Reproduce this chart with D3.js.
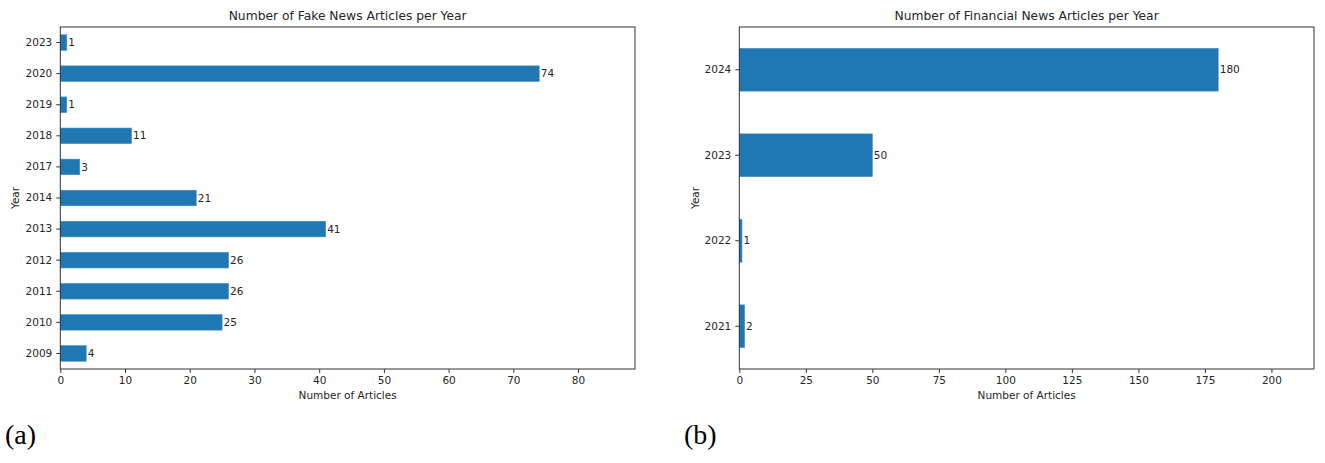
<!DOCTYPE html>
<html><head><meta charset="utf-8">
<script src="https://cdn.jsdelivr.net/npm/d3@7"></script>
<style>body{margin:0;background:#fff}svg{display:block}</style>
</head><body>
<svg id="c" width="1325" height="463"></svg>
<script>
// Data
const fakeYears = ["2009","2010","2011","2012","2013","2014","2017","2018","2019","2020","2023"];
const fakeCounts = [4,25,26,26,41,21,3,11,1,74,1];
const fakeTicks = [0,10,20,30,40,50,60,70,80];
const finYears = ["2021","2022","2023","2024"];
const finCounts = [2,1,50,180];
const finTicks = [0,25,50,75,100,125,150,175,200];

const svg = d3.select("#c");
const FONT = "DejaVu Sans, sans-serif";
const TXT = "#262626";
const BAR = "#1f77b4";

function panel(o) {
  const {left, right, top, bottom, years, counts, ticks, xmax, title} = o;
  const g = svg.append("g");
  const x = d3.scaleLinear().domain([0, xmax]).range([left, right]);
  const y = d3.scaleBand().domain(years.slice().reverse()).range([top, bottom])
    .paddingInner(0.5).paddingOuter(0.25);

  g.selectAll("rect.bar").data(years.map((yr,i)=>({yr, v: counts[i]}))).enter()
    .append("rect").attr("class","bar")
    .attr("x", x(0)).attr("y", d => y(d.yr))
    .attr("width", d => x(d.v) - x(0)).attr("height", y.bandwidth())
    .attr("fill", BAR).attr("stroke", "#3d8cc6").attr("stroke-width", 0.6);

  g.selectAll("text.val").data(years.map((yr,i)=>({yr, v: counts[i]}))).enter()
    .append("text").attr("class","val")
    .attr("x", d => x(d.v) + 1.5).attr("y", d => y(d.yr) + y.bandwidth()/2)
    .attr("dy", "0.35em").attr("font-family", FONT).attr("font-size", 10.5)
    .attr("fill", TXT).text(d => d.v);

  // frame
  g.append("rect").attr("x", left).attr("y", top)
    .attr("width", right-left).attr("height", bottom-top)
    .attr("fill", "none").attr("stroke", "#333").attr("stroke-width", 1);

  const xa = g.append("g").attr("transform", `translate(0,${bottom})`)
    .call(d3.axisBottom(x).tickValues(ticks).tickSize(4).tickPadding(4));
  const ya = g.append("g").attr("transform", `translate(${left},0)`)
    .call(d3.axisLeft(y).tickSize(4).tickPadding(4));
  [xa, ya].forEach(a => {
    a.select(".domain").remove();
    a.selectAll("line").attr("stroke", "#333");
    a.selectAll("text").attr("font-family", FONT).attr("font-size", 10.5).attr("fill", TXT);
  });

  g.append("text").attr("x", (left+right)/2).attr("y", top - 7)
    .attr("text-anchor","middle").attr("font-family", FONT).attr("font-size", 12.3)
    .attr("fill", TXT).text(title);
  g.append("text").attr("x", (left+right)/2).attr("y", bottom + 30)
    .attr("text-anchor","middle").attr("font-family", FONT).attr("font-size", 10.5)
    .attr("fill", TXT).text("Number of Articles");
  g.append("text").attr("transform", `translate(${o.ylabX},${(top+bottom)/2}) rotate(-90)`)
    .attr("text-anchor","middle").attr("font-family", FONT).attr("font-size", 10.5)
    .attr("fill", TXT).text("Year");
}

panel({left: 60.3, right: 635, top: 27, bottom: 369, years: fakeYears, counts: fakeCounts,
  ticks: fakeTicks, xmax: d3.max(fakeCounts)*1.2, title: "Number of Fake News Articles per Year", ylabX: 19});
panel({left: 739.3, right: 1314, top: 27, bottom: 369, years: finYears, counts: finCounts,
  ticks: finTicks, xmax: d3.max(finCounts)*1.2, title: "Number of Financial News Articles per Year", ylabX: 699});

svg.append("text").attr("x", 5).attr("y", 444).attr("font-family", "Liberation Serif, serif")
  .attr("font-size", 28).attr("fill", "#000").text("(a)");
svg.append("text").attr("x", 684).attr("y", 444).attr("font-family", "Liberation Serif, serif")
  .attr("font-size", 28).attr("fill", "#000").text("(b)");
</script>
</body></html>
